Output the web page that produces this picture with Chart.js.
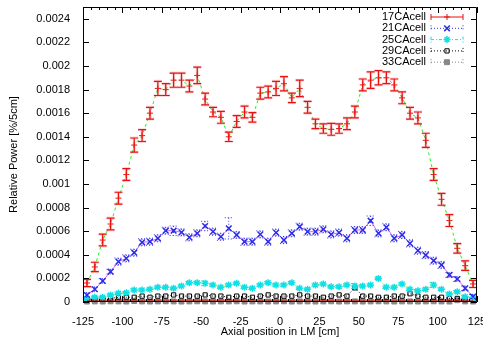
<!DOCTYPE html>
<html>
<head>
<meta charset="utf-8">
<script src="https://cdn.jsdelivr.net/npm/chart.js@4.4.0/dist/chart.umd.min.js"></script>
<style>body{margin:0;background:#fff}</style>
</head>
<body>
<canvas id="power-chart" width="483" height="340"></canvas>
<script>
// bin centres along the LM [cm]
const positions = [
  -122.5, -117.5, -112.5, -107.5, -102.5, -97.5, -92.5, -87.5, -82.5, -77.5,
  -72.5, -67.5, -62.5, -57.5, -52.5, -47.5, -42.5, -37.5, -32.5, -27.5,
  -22.5, -17.5, -12.5, -7.5, -2.5, 2.5, 7.5, 12.5, 17.5, 22.5,
  27.5, 32.5, 37.5, 42.5, 47.5, 52.5, 57.5, 62.5, 67.5, 72.5,
  77.5, 82.5, 87.5, 92.5, 97.5, 102.5, 107.5, 112.5, 117.5, 122.5
];

const cell17 = [
  0.000161, 0.000297, 0.000525, 0.000661, 0.00088, 0.00108, 0.00133, 0.00141, 0.0016, 0.00181,
  0.0018, 0.00188, 0.00188, 0.00183, 0.00192, 0.00172, 0.00161, 0.001565, 0.0014, 0.00153,
  0.00161, 0.001565, 0.00177, 0.00178, 0.00181, 0.00185, 0.00173, 0.00181, 0.00165, 0.00151,
  0.00147, 0.001463, 0.00147, 0.00151, 0.00161, 0.00184, 0.00188, 0.0019, 0.0019, 0.00184,
  0.00173, 0.0016, 0.00156, 0.00137, 0.00108, 0.00087, 0.00069, 0.000455, 0.000308, 0.000153
];
const cell17Err = [
  0.00003, 0.00004, 0.00005, 0.00005, 0.00005, 0.00005, 0.00006, 0.00005, 0.00005, 0.00006,
  0.00005, 0.00006, 0.00006, 0.00005, 0.00007, 0.00005, 0.00004, 0.00005, 0.00004, 0.00005,
  0.00005, 0.00004, 0.00005, 0.00005, 0.00006, 0.00006, 0.00004, 0.00007, 0.00005, 0.00004,
  0.00004, 0.00005, 0.00004, 0.00005, 0.00005, 0.00005, 0.00007, 0.00006, 0.00005, 0.00005,
  0.00005, 0.00005, 0.00005, 0.00006, 0.00005, 0.00005, 0.00005, 0.00004, 0.00004, 0.00003
];

const cell21 = [
  0.000059, 0.000108, 0.000178, 0.000257, 0.000342, 0.00037, 0.000418, 0.000506, 0.000511, 0.00054,
  0.000604, 0.000604, 0.00059, 0.000548, 0.000582, 0.000644, 0.000596, 0.000553, 0.000624, 0.000568,
  0.000511, 0.000511, 0.000573, 0.000511, 0.000588, 0.000525, 0.000582, 0.000638, 0.000596, 0.000596,
  0.000616, 0.000573, 0.000588, 0.00054, 0.00061, 0.00061, 0.000689, 0.000582, 0.000633, 0.00054,
  0.000568, 0.000497, 0.000435, 0.000398, 0.00035, 0.000314, 0.000229, 0.000195, 0.000116, 0.000045
];
const cell21Err = [
  0.00002, 0.00002, 0.00002, 0.00002, 0.00003, 0.00003, 0.00003, 0.00003, 0.00003, 0.00003,
  0.00003, 0.00004, 0.00003, 0.00003, 0.00003, 0.00004, 0.00003, 0.00003, 0.00009, 0.00003,
  0.00003, 0.00003, 0.00003, 0.00003, 0.00003, 0.00003, 0.00003, 0.00003, 0.00003, 0.00003,
  0.00003, 0.00003, 0.00003, 0.00003, 0.00003, 0.00003, 0.00004, 0.00003, 0.00003, 0.00003,
  0.00003, 0.00003, 0.00003, 0.00003, 0.00003, 0.00003, 0.00002, 0.00002, 0.00002, 0.00002
];

const cell25 = [
  0.00003, 0.00004, 0.00004, 0.000059, 0.000074, 0.000079, 0.000102, 0.000102, 0.000108, 0.000125,
  0.000125, 0.000116, 0.000136, 0.000164, 0.000164, 0.000158, 0.000144, 0.000125, 0.000144, 0.000158,
  0.000125, 0.000116, 0.000144, 0.000164, 0.000144, 0.000144, 0.000164, 0.000116, 0.000108, 0.000144,
  0.000153, 0.00013, 0.00013, 0.000144, 0.000136, 0.000136, 0.000144, 0.0002, 0.000125, 0.000125,
  0.000153, 0.000108, 0.000096, 0.000108, 0.000144, 0.000108, 0.000068, 0.000087, 0.000045, 0.00003
];
const cell25Err = [
  0.00001, 0.00001, 0.00001, 0.00001, 0.00001, 0.00001, 0.00001, 0.00001, 0.00001, 0.00001,
  0.00001, 0.00001, 0.00001, 0.00001, 0.00001, 0.00002, 0.00001, 0.00001, 0.00001, 0.00001,
  0.00001, 0.00001, 0.00001, 0.00001, 0.00001, 0.00001, 0.00001, 0.00001, 0.00001, 0.00001,
  0.00001, 0.00001, 0.00001, 0.00001, 0.00002, 0.00001, 0.00001, 0.00001, 0.00001, 0.00001,
  0.00001, 0.00001, 0.00001, 0.00001, 0.00002, 0.00001, 0.00001, 0.00001, 0.00001, 0.00001
];

const cell29 = [
  0.00002, 0.00003, 0.00003, 0.00003, 0.00004, 0.00004, 0.00004, 0.00005, 0.00004, 0.00005,
  0.00005, 0.00006, 0.00005, 0.00005, 0.00005, 0.00006, 0.00005, 0.00005, 0.00004, 0.00005,
  0.00005, 0.00004, 0.00005, 0.00006, 0.00005, 0.00005, 0.00005, 0.00006, 0.00005, 0.00005,
  0.00004, 0.00005, 0.00006, 0.00005, 0.00012, 0.00005, 0.00005, 0.00004, 0.00004, 0.00005,
  0.00005, 0.00007, 0.00005, 0.00004, 0.00004, 0.00004, 0.00003, 0.00003, 0.00002, 0.00002
];

const cell33 = [
  0.000004, 0.000005, 0.000004, 0.000006, 0.000005, 0.000004, 0.000008, 0.000005, 0.000004, 0.000005,
  0.000006, 0.000005, 0.000004, 0.000005, 0.000006, 0.000005, 0.000004, 0.000005, 0.000005, 0.000006,
  0.000004, 0.000005, 0.000005, 0.000004, 0.000005, 0.000006, 0.000004, 0.000005, 0.000005, 0.000004,
  0.000005, 0.000006, 0.000004, 0.000005, 0.000005, 0.000004, 0.000005, 0.000006, 0.000005, 0.000004,
  0.000005, 0.000005, 0.000004, 0.000005, 0.000006, 0.000005, 0.000004, 0.000015, 0.000005, 0.000004
];

// thin red line running along the bottom
const baseLine = [
  0.000015, 0.000015, 0.000015, 0.000015, 0.000015, 0.000015, 0.000015, 0.000015, 0.000015, 0.000015,
  0.000015, 0.000015, 0.000015, 0.000015, 0.000015, 0.000015, 0.000015, 0.000015, 0.000015, 0.000015,
  0.000015, 0.000015, 0.000015, 0.000015, 0.000015, 0.000015, 0.000015, 0.000015, 0.000015, 0.000015,
  0.000015, 0.000015, 0.000015, 0.000015, 0.000015, 0.000015, 0.000015, 0.000015, 0.000015, 0.000015,
  0.000015, 0.000015, 0.000015, 0.000015, 0.000015, 0.000015, 0.000015, 0.000015, 0.000015, 0.000015
];

const xTicks = [-125, -100, -75, -50, -25, 0, 25, 50, 75, 100, 125];
const xTickLabels = ['-125', '-100', '-75', '-50', '-25', '0', '25', '50', '75', '100', '125'];
const yTicks = [0, 0.0002, 0.0004, 0.0006, 0.0008, 0.001, 0.0012, 0.0014, 0.0016, 0.0018, 0.002, 0.0022, 0.0024];
const yTickLabels = ['0', '0.0002', '0.0004', '0.0006', '0.0008', '0.001', '0.0012', '0.0014', '0.0016', '0.0018', '0.002', '0.0022', '0.0024'];

const FONT = "'Liberation Sans', Arial, sans-serif";
const pts = vals => positions.map((p, i) => ({ x: p, y: vals[i] }));

// vertical error bars with caps
const errorBars = {
  id: 'errorBars',
  afterDatasetsDraw(chart) {
    const ctx = chart.ctx, xs = chart.scales.x, ys = chart.scales.y;
    chart.data.datasets.forEach(ds => {
      if (!ds.errors) return;
      const passes = ds.errorHalo ? [[ds.errorHalo, 3, []], [ds.errorColor, ds.errorWidth, ds.errorDash]] : [[ds.errorColor, ds.errorWidth, ds.errorDash]];
      passes.forEach(([col, w, dash]) => {
        ctx.save();
        ctx.strokeStyle = col;
        ctx.lineWidth = w;
        ctx.setLineDash(dash);
        ds.data.forEach((p, i) => {
          const px = xs.getPixelForValue(p.x);
          const t = ys.getPixelForValue(p.y + ds.errors[i]);
          const b = ys.getPixelForValue(p.y - ds.errors[i]);
          ctx.beginPath();
          ctx.moveTo(px, t); ctx.lineTo(px, b);
          ctx.moveTo(px - 4, t); ctx.lineTo(px + 4, t);
          ctx.moveTo(px - 4, b); ctx.lineTo(px + 4, b);
          ctx.stroke();
        });
        ctx.restore();
      });
    });
  }
};

// gnuplot style frame with inward ticks, and the key
const frameAndKey = {
  id: 'frameAndKey',
  afterDraw(chart) {
    const ctx = chart.ctx, a = chart.chartArea, xs = chart.scales.x, ys = chart.scales.y;
    ctx.save();
    ctx.strokeStyle = '#000';
    ctx.lineWidth = 1;
    ctx.beginPath();
    ctx.rect(a.left + 0.5, a.top + 0.5, a.right - a.left - 1, a.bottom - a.top - 1);
    xTicks.forEach(v => {
      const px = Math.round(xs.getPixelForValue(v)) + 0.5;
      ctx.moveTo(px, a.bottom); ctx.lineTo(px, a.bottom - 6);
      ctx.moveTo(px, a.top); ctx.lineTo(px, a.top + 6);
    });
    positions.forEach(v => {
      const px = Math.round(xs.getPixelForValue(v - 2.5)) + 0.5;
      ctx.moveTo(px, a.bottom); ctx.lineTo(px, a.bottom - 3);
      ctx.moveTo(px, a.top); ctx.lineTo(px, a.top + 3);
    });
    yTicks.forEach(v => {
      const py = Math.round(ys.getPixelForValue(v)) + 0.5;
      ctx.moveTo(a.left, py); ctx.lineTo(a.left + 6, py);
      ctx.moveTo(a.right, py); ctx.lineTo(a.right - 6, py);
    });
    ctx.stroke();

    // key
    ctx.font = '11px ' + FONT;
    ctx.fillStyle = '#000';
    ctx.textAlign = 'right';
    ctx.textBaseline = 'middle';
    let row = 0;
    chart.data.datasets.forEach(ds => {
      if (!ds.label) return;
      const y = 17 + row * 11.3;
      ctx.fillText(ds.label, 426, y);
      ctx.save();
      ctx.strokeStyle = ds.errorColor;
      ctx.lineWidth = 1;
      ctx.setLineDash(ds.errorDash);
      ctx.beginPath();
      ctx.moveTo(431, y); ctx.lineTo(463, y);
      ctx.moveTo(431, y - 3); ctx.lineTo(431, y + 3);
      ctx.moveTo(463, y - 3); ctx.lineTo(463, y + 3);
      ctx.stroke();
      ctx.setLineDash([]);
      ctx.strokeStyle = ds.pointBorderColor;
      ctx.fillStyle = ds.pointBackgroundColor;
      ctx.lineWidth = ds.pointBorderWidth;
      Chart.helpers.drawPoint(ctx, { pointStyle: ds.pointStyle, radius: ds.pointRadius, rotation: 0, borderWidth: ds.pointBorderWidth }, 447, y);
      ctx.restore();
      ctx.fillStyle = '#000';
      row++;
    });
    ctx.restore();
  }
};

new Chart(document.getElementById('power-chart'), {
  type: 'line',
  data: {
    datasets: [
      {
        label: '17CAcell', data: pts(cell17), errors: cell17Err,
        errorColor: '#e81010', errorWidth: 1.2, errorDash: [], errorHalo: 'rgba(240,120,130,0.3)',
        borderColor: '#22ee22', borderWidth: 1, borderDash: [3, 3],
        pointStyle: 'cross', pointRadius: 3, pointBorderColor: '#e81010',
        pointBackgroundColor: '#e81010', pointBorderWidth: 1, order: 1
      },
      {
        label: '21CAcell', data: pts(cell21), errors: cell21Err,
        errorColor: '#3030f0', errorWidth: 1, errorDash: [1, 2],
        borderColor: '#e060e8', borderWidth: 1,
        pointStyle: 'crossRot', pointRadius: 4, pointBorderColor: '#2a2ae8',
        pointBackgroundColor: '#2a2ae8', pointBorderWidth: 1.5, order: 2
      },
      {
        label: '25CAcell', data: pts(cell25), errors: cell25Err,
        errorColor: '#10e0e8', errorWidth: 1, errorDash: [3, 2, 1, 2],
        borderColor: '#e8e820', borderWidth: 1, borderDash: [3, 2],
        pointStyle: 'star', pointRadius: 3.5, pointBorderColor: '#10e0e8',
        pointBackgroundColor: '#10e0e8', pointBorderWidth: 1.5, order: 3
      },
      {
        label: '29CAcell', data: pts(cell29), errors: null,
        errorColor: '#000', errorWidth: 1, errorDash: [1, 2],
        borderColor: '#000', borderWidth: 1, borderDash: [1, 2],
        pointStyle: 'rect', pointRadius: 3, pointBorderColor: '#000',
        pointBackgroundColor: 'rgba(0,0,0,0)', pointBorderWidth: 1, order: 4
      },
      {
        label: '33CAcell', data: pts(cell33), errors: null,
        errorColor: '#888', errorWidth: 1, errorDash: [1, 2],
        borderColor: '#888', borderWidth: 1, borderDash: [1, 2],
        pointStyle: 'rect', pointRadius: 3.5, pointBorderColor: '#888',
        pointBackgroundColor: '#888', pointBorderWidth: 1, order: 5
      },
      {
        label: '', data: pts(baseLine),
        borderColor: '#d42a1a', borderWidth: 1, pointRadius: 0, order: 0
      }
    ]
  },
  options: {
    responsive: false,
    animation: false,
    clip: 6,
    layout: { padding: { top: 7, right: 6, left: 0, bottom: 0 } },
    plugins: { legend: { display: false }, tooltip: { enabled: false } },
    scales: {
      x: {
        type: 'linear', min: -125, max: 125,
        grid: { display: false }, border: { display: false },
        afterBuildTicks: s => { s.ticks = xTicks.map(v => ({ value: v })); },
        afterFit: s => { s.height = 38; s.paddingLeft = 0; s.paddingRight = 0; },
        ticks: {
          padding: 5, color: '#000', maxRotation: 0, autoSkip: false,
          font: { family: FONT, size: 11 },
          callback: (v, i) => xTickLabels[i]
        },
        title: {
          display: true, text: 'Axial position in LM [cm]', color: '#000',
          font: { family: FONT, size: 11 }, padding: { top: 0, bottom: 1 }
        }
      },
      y: {
        min: 0, max: 0.0025,
        grid: { display: false }, border: { display: false },
        afterBuildTicks: s => { s.ticks = yTicks.map(v => ({ value: v })); },
        afterFit: s => { s.width = 83; s.paddingTop = 0; s.paddingBottom = 0; },
        ticks: {
          padding: 5, color: '#000', autoSkip: false,
          font: { family: FONT, size: 11 },
          callback: (v, i) => yTickLabels[i]
        },
        title: {
          display: true, text: 'Relative Power [%/5cm]', color: '#000',
          font: { family: FONT, size: 11 }, padding: { top: 7, bottom: 0 }
        }
      }
    }
  },
  plugins: [errorBars, frameAndKey]
});
</script>
</body>
</html>
